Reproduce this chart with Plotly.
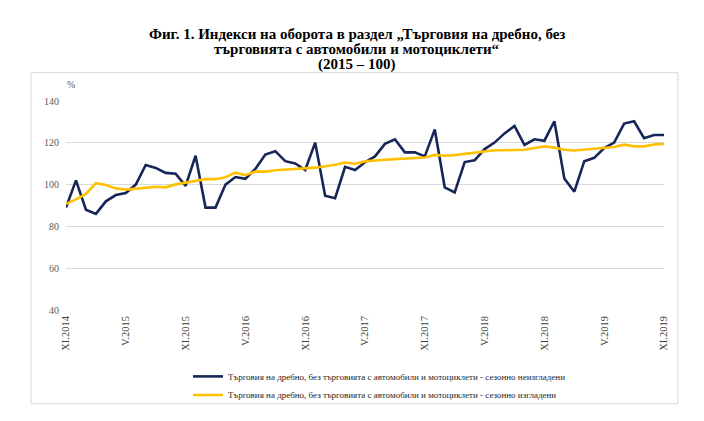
import plotly.graph_objects as go

# Месеци XI.2014 - XI.2019
roman = ['I', 'II', 'III', 'IV', 'V', 'VI', 'VII', 'VIII', 'IX', 'X', 'XI', 'XII']
months = []
y, m = 2014, 10
while (y, m) <= (2019, 10):
    months.append(f'{roman[m]}.{y}')
    m += 1
    if m == 12:
        m = 0
        y += 1

# сезонно неизгладени
raw = [89, 102, 88, 86, 92, 95, 96, 100, 109.4, 108, 105.6, 105.2, 99.4, 113.8, 89, 89,
       100, 103.6, 102.8, 107.5, 114.4, 116, 111.2, 110.1, 107, 120.1, 94.7, 93.5, 108.5, 107,
       110.7, 113.5, 119.5, 121.7, 115.4, 115.4, 113.5, 126.4, 98.7, 96.3, 110.8, 111.6, 117, 120.1,
       124.5, 128.1, 119, 121.7, 121, 130.3, 102.9, 96.6, 111.2, 112.8, 117.5, 120.1, 129.2, 130.3,
       122.2, 123.7, 123.7]

# сезонно изгладени
smooth = [90.8, 92.9, 95.5, 100.7, 99.8, 98.2, 97.6, 97.9, 98.5, 99, 98.7, 100.1, 101, 102, 102.6,
          102.6, 103.5, 105.7, 104.5, 106.3, 106.2, 106.9, 107.2, 107.5, 107.8, 108.1, 108.8, 109.5,
          110.6, 110, 111.1, 111.6, 111.9, 112.2, 112.5, 112.7, 113, 114.2, 113.8, 114.1, 114.6,
          115.2, 115.9, 116.4, 116.4, 116.4, 116.7, 117.5, 118.3, 117.7, 116.7, 116.3, 116.7, 117,
          117.3, 118, 119.1, 118.3, 118.3, 119.2, 119.5]

tick_idx = list(range(0, len(months), 6))
tick_lbl = [months[i] for i in tick_idx]

name1 = 'Търговия на дребно, без търговията с автомобили и мотоциклети - сезонно неизгладени'
name2 = 'Търговия на дребно, без търговията с автомобили и мотоциклети - сезонно изгладени'

# страницата има 8px отстъп на body -> всичко се измества с 8px
OFF = 8
W, H = 704 - OFF, 421 - OFF
# граници на графиката в координати на страницата
X0, X1, Y0, Y1 = 66, 664, 101, 315
L, R, T, B = X0 - OFF, W - (X1 - OFF), Y0 - OFF, H - (Y1 - OFF)
pw, ph = W - L - R, H - T - B


def px(xp):
    return (xp - X0) / pw


def py(yp):
    return (Y1 - yp) / ph


serif = 'Liberation Serif, Times New Roman, DejaVu Serif, serif'

fig = go.Figure()
fig.add_trace(go.Scatter(x=list(range(len(months))), y=raw, mode='lines', name=name1,
                         line=dict(color='#172659', width=2.6), legend='legend'))
fig.add_trace(go.Scatter(x=list(range(len(months))), y=smooth, mode='lines', name=name2,
                         line=dict(color='#FFC000', width=2.6), legend='legend2'))

leg = dict(xanchor='left', yanchor='middle', bgcolor='rgba(0,0,0,0)',
           font=dict(family=serif, size=9, color='#262626'), itemwidth=30)

fig.update_layout(
    width=W, height=H,
    margin=dict(l=L, r=R, t=T, b=B),
    paper_bgcolor='white', plot_bgcolor='white',
    font=dict(family=serif, color='#404040'),
    showlegend=True,
    legend=dict(x=px(188), y=py(383), **leg),
    legend2=dict(x=px(188), y=py(402), **leg),
    xaxis=dict(range=[0, len(months) - 1], tickmode='array', tickvals=tick_idx, ticktext=tick_lbl,
               tickangle=-90, tickfont=dict(family=serif, size=10.5, color='#404040'), showgrid=False,
               zeroline=False, showline=False, ticks='', ticklabelstandoff=3),
    yaxis=dict(range=[40, 140], dtick=20, showgrid=True, gridcolor='#d9d9d9', gridwidth=1,
               zeroline=False, showline=False, tickfont=dict(family=serif, size=10, color='#595959'),
               ticks='', ticklabelstandoff=6),
)

# рамка
fig.add_shape(type='rect', xref='paper', yref='paper', x0=px(31), x1=px(678), y0=py(411), y1=py(72),
              line=dict(color='#d9d9d9', width=1), layer='below')

titles = ['Фиг. 1. Индекси на оборота в раздел „Търговия на дребно, без',
          'търговията с автомобили и мотоциклети“',
          '(2015 – 100)']
for i, t in enumerate(titles):
    fig.add_annotation(text=f'<b>{t}</b>', xref='paper', yref='paper', x=px(357), y=py(32 + 16 * i),
                       xanchor='center', yanchor='middle', showarrow=False,
                       font=dict(family=serif, size=15, color='black'))

fig.add_annotation(text='%', xref='paper', yref='paper', x=px(71), y=py(84), xanchor='center',
                   yanchor='middle', showarrow=False, font=dict(family=serif, size=10, color='#595959'))

fig.write_html('out.html')
